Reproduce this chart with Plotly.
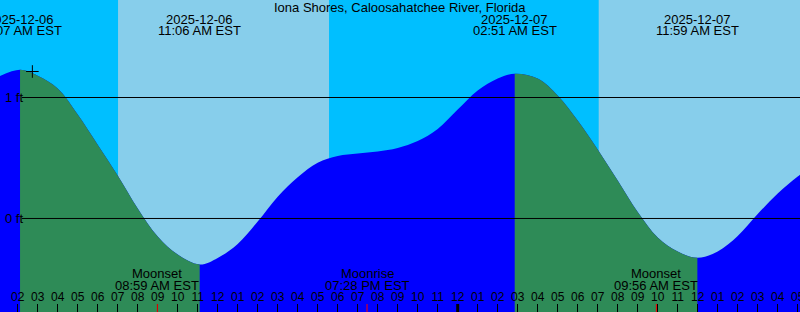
import pandas as pd
import plotly.graph_objects as go

station = "Iona Shores, Caloosahatchee River, Florida"

# Hourly predicted heights (ft), starting 2025-12-06 01:00
tide_start = "2025-12-06 01:00"
tide_heights = [1.17, 1.227, 1.18, 1.074, 0.86, 0.61, 0.355, 0.083, -0.149, -0.298,
                -0.376, -0.326, -0.21, -0.025, 0.18, 0.34, 0.46, 0.516, 0.537, 0.554,
                0.583, 0.64, 0.74, 0.90, 1.058, 1.157, 1.194, 1.157, 1.017, 0.81,
                0.57, 0.314, 0.054, -0.157, -0.273, -0.324, -0.273, -0.145, 0.037, 0.207,
                0.347, 0.47]

# High / low tide events
extreme_times = ["2025-12-06 02:07", "2025-12-06 11:06", "2025-12-07 02:51", "2025-12-07 11:59"]
extreme_heights = [1.229, -0.38, 1.196, -0.325]
extreme_kinds = ["High", "Low", "High", "Low"]

# Sun (day periods)
sunrise_times = ["2025-12-06 07:01", "2025-12-07 07:03"]
sunset_times = ["2025-12-06 17:34", "2025-12-07 17:35"]

# Moon events
moon_times = ["2025-12-06 08:59", "2025-12-06 19:28", "2025-12-07 09:56"]
moon_kinds = ["Moonset", "Moonrise", "Moonset"]

# Current-time mark
mark_time = ["2025-12-06 02:44"]
mark_height = [1.215]

midnight_times = ["2025-12-07 00:00"]
level_lines = [0, 1]

x_range = ["2025-12-06 01:06:54", "2025-12-07 17:06:54"]
y_range = [-0.773, 1.806]

W, H = 800, 312
NIGHT = "#00BFFF"
DAY = "#87CEEB"
RISE = "#0000FF"
FALL = "#2E8B57"
FONT = "Liberation Sans, Arial, sans-serif"

hourly = pd.DataFrame({"t": pd.date_range(tide_start, periods=len(tide_heights), freq="h"),
                       "h": tide_heights})
ext = pd.DataFrame({"t": pd.to_datetime(extreme_times), "h": extreme_heights, "k": extreme_kinds})
# drop hourly samples that sit within 15 min of an event
keep = hourly["t"].apply(lambda t: (abs(ext["t"] - t) > pd.Timedelta(minutes=15)).all())
pts = pd.concat([hourly[keep], ext[["t", "h"]]]).sort_values("t").reset_index(drop=True)

x0, x1 = pd.Timestamp(x_range[0]), pd.Timestamp(x_range[1])
span = (x1 - x0)
BASE = -1.5

fig = go.Figure()
layout_axes = {}


def add_curve(color, xaxis):
    fig.add_trace(go.Scatter(x=[pts.t.iloc[0], pts.t.iloc[-1]], y=[BASE, BASE], mode="lines",
                             line=dict(width=0), xaxis=xaxis, yaxis="y",
                             hoverinfo="skip", showlegend=False))
    fig.add_trace(go.Scatter(x=pts.t, y=pts.h, mode="lines",
                             line=dict(width=0, shape="spline", color=color, simplify=False),
                             fill="tonexty", fillcolor=color, xaxis=xaxis, yaxis="y",
                             hoverinfo="skip", showlegend=False))


# full tide curve in the rising colour
add_curve(RISE, "x")

# the same curve in the falling colour, shown only between each high and the following low
n = 2
for i in range(len(ext) - 1):
    if ext.k.iloc[i] == "High" and ext.k.iloc[i + 1] == "Low":
        t0, t1 = ext.t.iloc[i], ext.t.iloc[i + 1]
        layout_axes[f"xaxis{n}"] = dict(type="date", range=[t0, t1],
                                        domain=[(t0 - x0) / span, (t1 - x0) / span],
                                        anchor="y", visible=False, fixedrange=True)
        add_curve(FALL, f"x{n}")
        n += 1

# top-most full-width axis carrying the hour ticks and the mark
layout_axes[f"xaxis{n}"] = dict(
    type="date", range=x_range, domain=[0, 1], anchor="y", tickformat="%I", dtick=3600000,
    tick0="2025-12-06 00:00", ticks="inside", ticklen=8, tickwidth=1,
    tickcolor="black", ticklabelposition="inside", ticklabeloverflow="allow",
    tickfont=dict(size=12, color="black", family=FONT), automargin=False,
    showgrid=False, zeroline=False, showline=False, fixedrange=True)
fig.add_trace(go.Scatter(x=mark_time, y=mark_height, mode="markers", xaxis=f"x{n}", yaxis="y",
                         marker=dict(symbol="cross-thin", size=9, line=dict(width=1, color="black")),
                         hoverinfo="skip", showlegend=False))

shapes = []
for sr, ss in zip(sunrise_times, sunset_times):
    shapes.append(dict(type="rect", xref="x", yref="paper", x0=sr, x1=ss, y0=0, y1=1,
                       fillcolor=DAY, line=dict(width=0), layer="below"))
for lv in level_lines:
    shapes.append(dict(type="line", xref="paper", yref="y", x0=22 / W, x1=1, y0=lv, y1=lv,
                       line=dict(color="black", width=1), layer="above"))
for mt in midnight_times:
    shapes.append(dict(type="line", xref="x", yref="paper", x0=mt, x1=mt, y0=0, y1=8 / H,
                       line=dict(color="black", width=3), layer="above"))
for mt in moon_times:
    shapes.append(dict(type="line", xref="x", yref="paper", x0=mt, x1=mt, y0=0, y1=8 / H,
                       line=dict(color="red", width=1), layer="above"))


def py(px):
    return 1 - px / H


def label(text, x, y, xref="x", yref="paper", xanchor="center"):
    return dict(text=text, xref=xref, yref=yref, x=x, y=y, xanchor=xanchor, yanchor="middle",
                showarrow=False, font=dict(size=13, color="black", family=FONT))


ann = [label(station, 0.5, py(7), xref="paper")]
for t in ext.t:
    ann.append(label(t.strftime("%Y-%m-%d"), t, py(19.5)))
    ann.append(label(t.strftime("%I:%M %p EST"), t, py(31)))
for t, k in zip(pd.to_datetime(moon_times), moon_kinds):
    ann.append(label(k, t, py(273.5)))
    ann.append(label(t.strftime("%I:%M %p EST"), t, py(285)))
for lv in level_lines:
    ann.append(label(f"{lv} ft", 3 / W, lv, xref="paper", yref="y", xanchor="left"))

fig.update_layout(
    width=W, height=H, margin=dict(l=0, r=0, t=0, b=0, pad=0, autoexpand=False),
    plot_bgcolor="rgba(0,0,0,0)", paper_bgcolor=NIGHT,
    shapes=shapes, annotations=ann, showlegend=False,
    xaxis=dict(type="date", range=x_range, domain=[0, 1], visible=False, automargin=False,
               showgrid=False, zeroline=False, showline=False, fixedrange=True),
    yaxis=dict(range=y_range, visible=False, showgrid=False, zeroline=False, fixedrange=True,
               automargin=False),
    **layout_axes,
)

fig.write_html("out.html", config={"displayModeBar": False})
